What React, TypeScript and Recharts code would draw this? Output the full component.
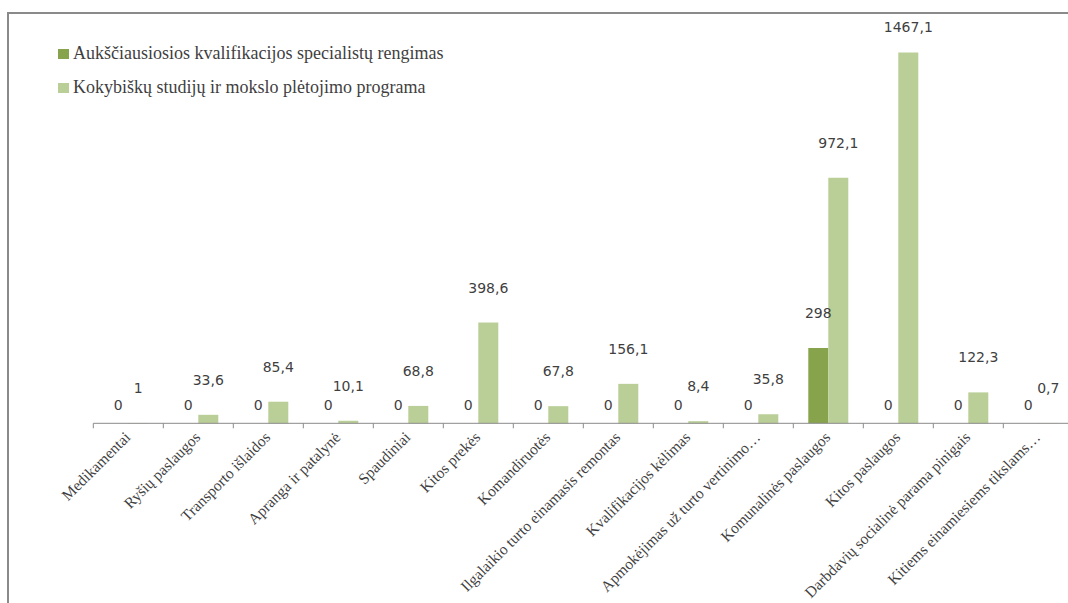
import { Bar, BarChart, LabelList, Legend, XAxis, YAxis } from "recharts";

const categories = [
  "Medikamentai",
  "Ryšių paslaugos",
  "Transporto išlaidos",
  "Apranga ir patalynė",
  "Spaudiniai",
  "Kitos prekės",
  "Komandiruotės",
  "Ilgalaikio turto einamasis remontas",
  "Kvalifikacijos kėlimas",
  "Apmokėjimas už turto vertinimo…",
  "Komunalinės paslaugos",
  "Kitos paslaugos",
  "Darbdavių socialinė parama pinigais",
  "Kitiems einamiesiems tikslams…",
];

const specialistai = [0, 0, 0, 0, 0, 0, 0, 0, 0, 0, 298, 0, 0, 0];
const studijos = [1, 33.6, 85.4, 10.1, 68.8, 398.6, 67.8, 156.1, 8.4, 35.8, 972.1, 1467.1, 122.3, 0.7];

const seriesNames = [
  "Aukščiausiosios kvalifikacijos specialistų rengimas",
  "Kokybiškų studijų ir mokslo plėtojimo programa",
];
const seriesColors = ["#87a34b", "#b9cf97"];

const data = categories.map((name, i) => ({
  name,
  specialistai: specialistai[i],
  studijos: studijos[i],
}));

const TEXT = "#3f3f3f";
const AXIS = "#8a8a8a";
const SERIF = "'Liberation Serif', 'DejaVu Serif', serif";

const fmt = (v: number) => String(v).replace(".", ",");

function labelText(cx: number, cy: number, value: number) {
  return (
    <text
      x={cx}
      y={cy}
      textAnchor="middle"
      dominantBaseline="central"
      fontFamily="'DejaVu Sans', sans-serif"
      fontSize={14}
      fill={TEXT}
    >
      {fmt(value)}
    </text>
  );
}

// labels above bars with a value
function ValueLabel(props: any) {
  const value = Number(props.value);
  if (value === 0) return null;
  const x = Number(props.x);
  const y = Number(props.y);
  const width = Number(props.width);
  return labelText(x + width / 2, Math.max(y - 35, 27), value);
}

// "0" labels of the first series, placed from the neighbouring bar
function ZeroLabel(props: any) {
  const value = Number(props.value);
  if (value !== 0) return null;
  const x = Number(props.x);
  const y = Number(props.y);
  const width = Number(props.width);
  const height = Number(props.height);
  return labelText(x - width / 2, y + height - 18, value);
}

function CategoryTick(props: any) {
  const { x, y, payload } = props;
  const half = payload?.offset || 35;
  const last = payload?.index === categories.length - 1;
  return (
    <g>
      <line x1={x - half} y1={y} x2={x - half} y2={y + 5} stroke={AXIS} />
      {last && <line x1={x + half} y1={y} x2={x + half} y2={y + 5} stroke={AXIS} />}
      <text
        transform={`translate(${x + 3},${y + 15}) rotate(-45)`}
        textAnchor="end"
        fontFamily={SERIF}
        fontSize={15.5}
        fill={TEXT}
      >
        {payload.value}
      </text>
    </g>
  );
}

function LegendBox() {
  return (
    <div style={{ fontFamily: SERIF, fontSize: 18, color: TEXT }}>
      {seriesNames.map((name, i) => (
        <div key={name} style={{ display: "flex", alignItems: "center", height: 34, whiteSpace: "nowrap" }}>
          <span style={{ width: 11, height: 10, background: seriesColors[i], marginRight: 4 }} />
          {name}
        </div>
      ))}
    </div>
  );
}

export default function App() {
  return (
    <div style={{ position: "absolute", left: 0, top: 0, width: 1068, height: 603, background: "#fff", overflow: "hidden" }}>
      <div
        style={{
          position: "absolute",
          left: 7,
          top: 12,
          width: 1080,
          height: 620,
          borderLeft: `2px solid ${AXIS}`,
          borderTop: `2px solid ${AXIS}`,
        }}
      />
      <div style={{ position: "absolute", left: 0, top: 0 }}>
        <BarChart
          width={1068}
          height={603}
          data={data}
          margin={{ top: 19, right: -5.3, left: 93.3, bottom: 149.7 }}
          barCategoryGap={15}
          barGap={0}
        >
          <XAxis
            dataKey="name"
            interval={0}
            axisLine={{ stroke: AXIS }}
            tickLine={false}
            tickSize={0}
            tickMargin={0}
            tick={<CategoryTick />}
            height={30}
          />
          <YAxis hide domain={[0, 1600]} width={0} />
          <Legend
            layout="vertical"
            align="center"
            verticalAlign="middle"
            content={<LegendBox />}
            wrapperStyle={{ left: 58, top: 36.5, width: "auto" }}
          />
          <Bar dataKey="specialistai" name={seriesNames[0]} fill={seriesColors[0]} isAnimationActive={false}>
            <LabelList dataKey="specialistai" content={<ValueLabel />} />
          </Bar>
          <Bar dataKey="studijos" name={seriesNames[1]} fill={seriesColors[1]} isAnimationActive={false}>
            <LabelList dataKey="studijos" content={<ValueLabel />} />
            <LabelList dataKey="specialistai" content={<ZeroLabel />} />
          </Bar>
        </BarChart>
      </div>
    </div>
  );
}
